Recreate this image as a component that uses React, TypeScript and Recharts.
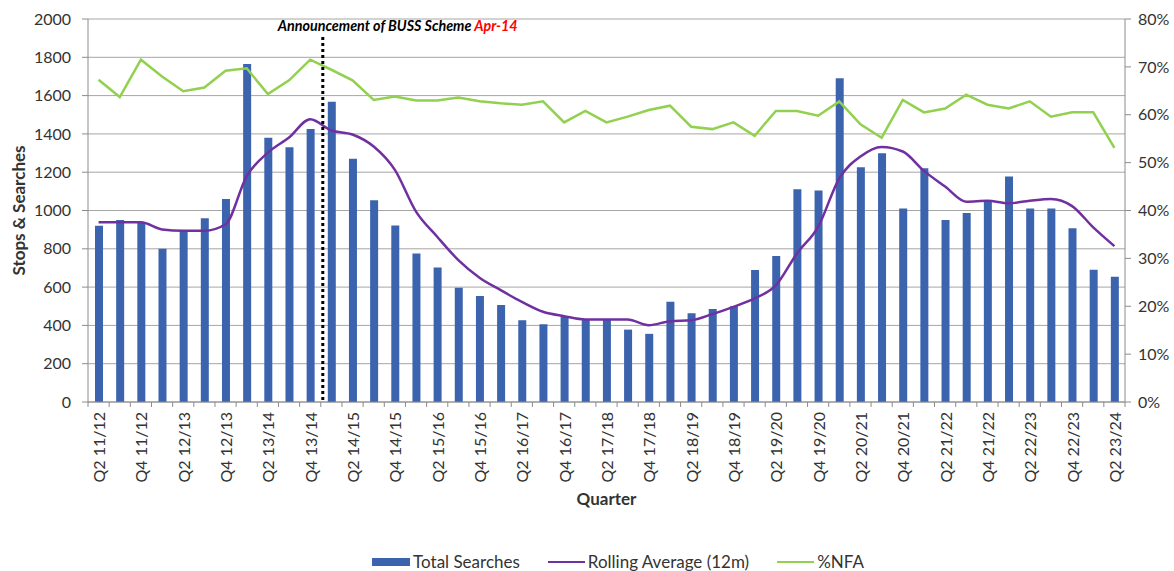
import React from 'react';
import {
  ComposedChart,
  Bar,
  Line,
  XAxis,
  YAxis,
  CartesianGrid,
  Legend,
  ReferenceLine,
} from 'recharts';

const quarters = [
  'Q2 11/12', 'Q3 11/12', 'Q4 11/12', 'Q1 12/13', 'Q2 12/13', 'Q3 12/13', 'Q4 12/13',
  'Q1 13/14', 'Q2 13/14', 'Q3 13/14', 'Q4 13/14', 'Q1 14/15', 'Q2 14/15', 'Q3 14/15',
  'Q4 14/15', 'Q1 15/16', 'Q2 15/16', 'Q3 15/16', 'Q4 15/16', 'Q1 16/17', 'Q2 16/17',
  'Q3 16/17', 'Q4 16/17', 'Q1 17/18', 'Q2 17/18', 'Q3 17/18', 'Q4 17/18', 'Q1 18/19',
  'Q2 18/19', 'Q3 18/19', 'Q4 18/19', 'Q1 19/20', 'Q2 19/20', 'Q3 19/20', 'Q4 19/20',
  'Q1 20/21', 'Q2 20/21', 'Q3 20/21', 'Q4 20/21', 'Q1 21/22', 'Q2 21/22', 'Q3 21/22',
  'Q4 21/22', 'Q1 22/23', 'Q2 22/23', 'Q3 22/23', 'Q4 22/23', 'Q1 23/24', 'Q2 23/24',
];

const totalSearches = [
  920, 950, 940, 800, 895, 960, 1060, 1765, 1380, 1330, 1425, 1568, 1270, 1053, 922, 776,
  703, 596, 553, 507, 427, 406, 448, 430, 430, 378, 356, 523, 464, 486, 500, 689, 762, 1111,
  1104, 1691, 1226, 1299, 1010, 1221, 950, 987, 1051, 1177, 1010, 1010, 907, 690, 654,
];

const rollingAverage = [
  938, 938, 938, 901, 894, 894, 928, 1180, 1302, 1381, 1477, 1418, 1397, 1334, 1212, 994,
  863, 741, 649, 584, 523, 471, 448, 431, 431, 431, 401, 422, 427, 459, 497, 541, 609, 776,
  915, 1168, 1282, 1332, 1308, 1207, 1125, 1046, 1051, 1038, 1051, 1060, 1023, 912, 814,
];

const pctNFA = [
  67.3, 63.7, 71.5, 68.0, 64.9, 65.7, 69.2, 69.7, 64.3, 67.2, 71.5, 69.4, 67.2, 63.1, 63.8,
  63.0, 63.0, 63.6, 62.8, 62.4, 62.1, 62.8, 58.4, 60.8, 58.4, 59.6, 61.0, 61.9, 57.5, 57.0,
  58.4, 55.6, 60.8, 60.8, 59.8, 62.8, 58.0, 55.2, 63.1, 60.5, 61.3, 64.2, 62.1, 61.3, 62.8,
  59.6, 60.5, 60.5, 53.1,
];

const leftTicks = [0, 200, 400, 600, 800, 1000, 1200, 1400, 1600, 1800, 2000];
const rightTicks = [0, 10, 20, 30, 40, 50, 60, 70, 80];

const seriesNames = ['Total Searches', 'Rolling Average (12m)', '%NFA'];
const announcementQuarter = 'Q1 14/15';
const announcementText = 'Announcement of BUSS Scheme ';
const announcementDate = 'Apr-14';
const leftAxisTitle = 'Stops & Searches';
const xAxisTitle = 'Quarter';

const data = quarters.map((q, i) => ({
  quarter: q,
  total: totalSearches[i],
  rolling: rollingAverage[i],
  nfa: pctNFA[i],
}));

const FONT = 'Lato, "Open Sans", sans-serif';
const TEXT = '#333333';
const AXIS = '#8c8c8c';
const GRID = '#a6a6a6';

const QuarterTick = (props: any) => {
  const { x, y, payload, index, visibleTicksCount } = props;
  const half = payload && typeof payload.offset === 'number' ? payload.offset : 0;
  return (
    <g>
      <line x1={x - half} x2={x - half} y1={y - 10} y2={y - 5} stroke={AXIS} />
      {index === visibleTicksCount - 1 && (
        <line x1={x + half} x2={x + half} y1={y - 10} y2={y - 5} stroke={AXIS} />
      )}
      {index % 2 === 0 && (
        <text
          x={x}
          y={y}
          transform={`rotate(-90 ${x} ${y})`}
          textAnchor="end"
          dominantBaseline="central"
          fontFamily={FONT}
          fontSize={16}
          fill={TEXT}
        >
          {payload.value}
        </text>
      )}
    </g>
  );
};

const LeftTitle = (props: any) => {
  const vb = props.viewBox || {};
  const cx = vb.x + 18;
  const cy = vb.y + vb.height / 2;
  return (
    <text
      x={cx}
      y={cy}
      transform={`rotate(-90 ${cx} ${cy})`}
      textAnchor="middle"
      dominantBaseline="central"
      fontFamily={FONT}
      fontWeight="bold"
      fontSize={17}
      fill={TEXT}
    >
      {leftAxisTitle}
    </text>
  );
};

const BottomTitle = (props: any) => {
  const vb = props.viewBox || {};
  return (
    <text
      x={vb.x + vb.width / 2}
      y={vb.y + 96}
      textAnchor="middle"
      dominantBaseline="central"
      fontFamily={FONT}
      fontWeight="bold"
      fontSize={17}
      fill={TEXT}
    >
      {xAxisTitle}
    </text>
  );
};

const AnnotationLabel = (props: any) => {
  const vb = props.viewBox || {};
  return (
    <text
      x={vb.x - 43}
      y={vb.y + 12}
      textAnchor="start"
      fontFamily={FONT}
      fontWeight="bold"
      fontStyle="italic"
      fontSize={14.3}
      fill="#000000"
    >
      {announcementText}
      <tspan fill="#ff0000">{announcementDate}</tspan>
    </text>
  );
};

const DottedLine = (props: any) => {
  const { x1, x2, y1, y2 } = props;
  const top = Math.min(y1, y2);
  const bottom = Math.max(y1, y2);
  return (
    <line
      x1={x1 + 2}
      x2={x2 + 2}
      y1={top + 18}
      y2={bottom}
      stroke="#000000"
      strokeWidth={3}
      strokeDasharray="3 3"
    />
  );
};

const LegendContent = (props: any) => {
  const payload = [...(props.payload || [])].sort(
    (a: any, b: any) => seriesNames.indexOf(a.value) - seriesNames.indexOf(b.value)
  );
  return (
    <div
      style={{
        display: 'flex',
        justifyContent: 'center',
        alignItems: 'center',
        fontFamily: FONT,
        fontSize: 17,
        lineHeight: '20px',
        color: TEXT,
        paddingLeft: 62,
      }}
    >
      {payload.map((p: any, i: number) => (
        <div
          key={i}
          style={{
            display: 'flex',
            alignItems: 'center',
            marginRight: i < payload.length - 1 ? 28 : 0,
          }}
        >
          {p.type === 'rect' ? (
            <span style={{ display: 'inline-block', width: 38, height: 8, background: p.color }} />
          ) : (
            <span style={{ display: 'inline-block', width: 37, height: 2.5, background: p.color }} />
          )}
          <span style={{ marginLeft: 3, whiteSpace: 'nowrap' }}>{p.value}</span>
        </div>
      ))}
    </div>
  );
};

export default function App() {
  return (
    <div style={{ position: 'absolute', left: 0, top: 0, width: 1174, height: 571, background: '#fff' }}>
      <ComposedChart
        width={1174}
        height={571}
        data={data}
        margin={{ top: 19, right: 0, bottom: 64, left: 0 }}
      >
        <CartesianGrid yAxisId="left" vertical={false} stroke={GRID} strokeWidth={1} />
        <XAxis
          dataKey="quarter"
          interval={0}
          height={105}
          tickSize={6}
          tickMargin={4}
          tickLine={false}
          tick={<QuarterTick />}
          axisLine={{ stroke: AXIS }}
          label={<BottomTitle />}
        />
        <YAxis
          yAxisId="left"
          width={88}
          domain={[0, 2000]}
          ticks={leftTicks}
          interval={0}
          tickSize={6}
          tickMargin={11}
          tickLine={{ stroke: AXIS }}
          axisLine={{ stroke: AXIS }}
          tick={{ fontFamily: FONT, fontSize: 16, fill: TEXT }}
          label={<LeftTitle />}
        />
        <YAxis
          yAxisId="right"
          orientation="right"
          width={49}
          domain={[0, 80]}
          ticks={rightTicks}
          interval={0}
          tickSize={6}
          tickMargin={7}
          tickLine={{ stroke: AXIS }}
          axisLine={{ stroke: AXIS }}
          tickFormatter={(v: number) => `${v}%`}
          tick={{ fontFamily: FONT, fontSize: 16, fill: TEXT }}
        />
        <Bar
          yAxisId="left"
          dataKey="total"
          name={seriesNames[0]}
          fill="#3c64ae"
          barSize={8}
          legendType="rect"
          isAnimationActive={false}
        />
        <Line
          yAxisId="left"
          dataKey="rolling"
          name={seriesNames[1]}
          type="monotone"
          stroke="#7030a0"
          strokeWidth={2.5}
          dot={false}
          legendType="line"
          isAnimationActive={false}
        />
        <Line
          yAxisId="right"
          dataKey="nfa"
          name={seriesNames[2]}
          type="linear"
          stroke="#92d050"
          strokeWidth={2.5}
          dot={false}
          legendType="line"
          isAnimationActive={false}
        />
        <ReferenceLine
          yAxisId="left"
          x={announcementQuarter}
          position="start"
          shape={<DottedLine />}
          label={<AnnotationLabel />}
        />
        <Legend
          verticalAlign="middle"
          align="center"
          layout="horizontal"
          content={<LegendContent />}
          wrapperStyle={{ top: 552, left: 0, width: 1174 }}
        />
      </ComposedChart>
    </div>
  );
}
